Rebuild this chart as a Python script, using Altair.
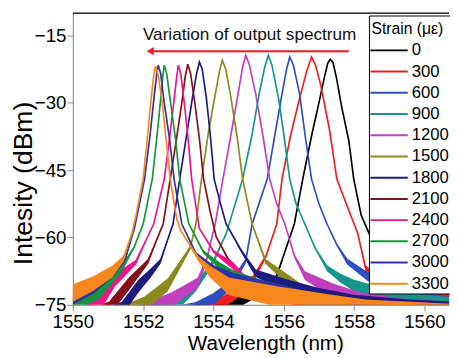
import altair as alt
import pandas as pd

strains = ["0", "300", "600", "900", "1200", "1500", "1800", "2100", "2400", "2700", "3000", "3300"]
colors = ["#000000", "#F01E1E", "#2F4FC0", "#16968C", "#C040C0", "#8A8A1E",
          "#1C1C80", "#85101A", "#F0148C", "#17943F", "#2C35A5", "#F7861C"]

s0_wl = [1550.0, 1553.0, 1554.5, 1555.2, 1555.75, 1555.9, 1556.3, 1556.54, 1556.8, 1557.0, 1557.15, 1557.25, 1557.32, 1557.4, 1557.5, 1557.65, 1557.85, 1557.99, 1558.2, 1558.41, 1558.7, 1559.1, 1559.6, 1560.1, 1560.7]
s0_db = [-76.5, -76.0, -74.5, -71.5, -69.5, -66.2, -57.0, -47.0, -37.0, -30.0, -24.5, -21.2, -20.3, -21.0, -24.5, -31.0, -38.4, -47.0, -55.0, -58.8, -64.0, -67.5, -70.0, -72.0, -73.5]
s0_nz = [2.0, 2.0, 2.0, 2.0, 1.5, 0.5, 0, 0, 0, 0, 0, 0, 0, 0, 0, 0, 0, 0, 0, 0, 0.5, 1.0, 1.5, 2.0, 2.5]

s1_wl = [1550.0, 1553.0, 1554.0, 1554.6, 1555.14, 1555.5, 1555.8, 1555.95, 1556.2, 1556.45, 1556.65, 1556.79, 1556.9, 1557.05, 1557.3, 1557.51, 1557.85, 1558.1, 1558.32, 1558.8, 1559.5, 1560.1, 1560.7]
s1_db = [-77.0, -76.5, -75.0, -72.0, -68.7, -64.0, -57.0, -47.0, -37.0, -29.0, -23.0, -19.8, -21.5, -26.0, -36.0, -47.0, -54.0, -59.0, -66.5, -69.5, -71.5, -72.5, -73.5]
s1_nz = [2.0, 2.0, 2.0, 2.0, 1.2, 0.5, 0, 0, 0, 0, 0, 0, 0, 0, 0, 0, 0, 0, 1.0, 1.5, 2.0, 2.5, 2.5]

s2_wl = [1550.0, 1552.5, 1553.5, 1554.0, 1554.5, 1554.92, 1555.1, 1555.53, 1555.75, 1555.95, 1556.08, 1556.17, 1556.27, 1556.45, 1556.62, 1556.79, 1557.0, 1557.23, 1557.5, 1557.8, 1558.35, 1558.9, 1559.6, 1560.7]
s2_db = [-77.0, -76.5, -75.0, -73.0, -70.0, -65.0, -57.0, -47.0, -37.0, -28.0, -22.5, -19.8, -21.5, -28.0, -38.0, -47.0, -52.5, -57.0, -61.5, -65.0, -68.0, -70.5, -72.5, -74.0]
s2_nz = [2.0, 2.0, 2.0, 2.0, 1.5, 0.8, 0, 0, 0, 0, 0, 0, 0, 0, 0, 0, 0, 0, 0.3, 1.0, 1.5, 2.0, 2.5, 2.5]

s3_wl = [1550.0, 1552.0, 1553.0, 1553.5, 1554.0, 1554.36, 1554.83, 1555.1, 1555.3, 1555.46, 1555.56, 1555.66, 1555.85, 1556.0, 1556.17, 1556.35, 1556.6, 1556.9, 1557.23, 1557.6, 1558.0, 1558.46, 1559.2, 1560.0, 1560.7]
s3_db = [-76.5, -75.5, -74.0, -70.5, -65.2, -59.2, -47.0, -37.0, -28.0, -22.0, -19.4, -21.5, -29.0, -37.0, -47.0, -52.5, -57.0, -62.5, -66.5, -68.5, -70.0, -71.0, -72.5, -73.5, -74.0]
s3_nz = [2.0, 2.0, 2.0, 1.5, 0.8, 0, 0, 0, 0, 0, 0, 0, 0, 0, 0, 0, 0, 0.3, 1.0, 1.5, 2.0, 2.0, 2.5, 2.5, 2.5]

s4_wl = [1550.0, 1551.5, 1552.15, 1552.8, 1553.55, 1553.8, 1554.05, 1554.27, 1554.5, 1554.7, 1554.83, 1554.92, 1555.02, 1555.2, 1555.4, 1555.6, 1555.8, 1556.03, 1556.3, 1556.6, 1557.4, 1558.2, 1559.5, 1560.7]
s4_db = [-77.0, -76.5, -75.0, -73.0, -69.5, -65.0, -57.0, -47.0, -37.0, -28.0, -22.0, -19.4, -21.5, -28.0, -37.0, -47.0, -52.5, -57.0, -64.0, -68.0, -71.0, -73.0, -74.5, -75.0]
s4_nz = [2.0, 2.0, 2.5, 2.5, 1.8, 0.8, 0, 0, 0, 0, 0, 0, 0, 0, 0, 0, 0, 0, 0.5, 1.5, 2.5, 2.5, 2.5, 2.5]

s5_wl = [1550.0, 1551.0, 1551.7, 1552.04, 1552.7, 1553.35, 1553.5, 1553.66, 1553.85, 1554.03, 1554.17, 1554.25, 1554.35, 1554.5, 1554.68, 1554.83, 1555.1, 1555.47, 1556.1, 1556.6, 1557.5, 1558.5, 1560.7]
s5_db = [-77.0, -76.5, -75.0, -73.9, -69.8, -62.0, -57.0, -47.0, -37.0, -29.0, -23.0, -20.5, -22.5, -29.0, -38.0, -47.0, -57.0, -65.0, -68.7, -71.7, -73.5, -74.5, -75.5]
s5_nz = [2.0, 2.0, 2.5, 2.5, 2.2, 0.6, 0, 0, 0, 0, 0, 0, 0, 0, 0, 0, 0, 0.8, 1.8, 2.5, 2.5, 2.5, 2.5]

s6_wl = [1550.0, 1551.0, 1551.4, 1551.87, 1552.2, 1552.5, 1552.85, 1553.04, 1553.22, 1553.4, 1553.52, 1553.6, 1553.68, 1553.8, 1553.92, 1554.02, 1554.2, 1554.36, 1554.8, 1555.2, 1556.1, 1557.0, 1558.0, 1559.5, 1560.7]
s6_db = [-77.0, -76.5, -75.0, -70.0, -67.5, -65.0, -57.0, -47.0, -38.0, -29.0, -23.5, -20.9, -22.5, -29.0, -38.0, -47.0, -52.5, -57.0, -63.0, -67.5, -70.0, -72.0, -73.5, -74.5, -75.0]
s6_nz = [2.0, 2.0, 2.5, 2.2, 1.6, 0.8, 0, 0, 0, 0, 0, 0, 0, 0, 0, 0, 0, 0, 0.5, 1.3, 2.2, 2.5, 2.5, 2.5, 2.5]

s7_wl = [1550.0, 1550.5, 1551.03, 1551.6, 1552.15, 1552.57, 1552.77, 1552.95, 1553.1, 1553.2, 1553.27, 1553.35, 1553.47, 1553.6, 1553.72, 1553.9, 1554.08, 1554.4, 1554.83, 1555.67, 1556.5, 1557.5, 1559.0, 1560.7]
s7_db = [-77.0, -76.5, -75.0, -69.5, -65.0, -57.0, -47.0, -38.0, -30.0, -24.0, -21.4, -23.5, -30.0, -38.0, -47.0, -54.0, -59.9, -64.5, -68.7, -71.3, -73.0, -74.5, -75.0, -75.5]
s7_nz = [2.0, 2.0, 2.5, 2.2, 0.8, 0, 0, 0, 0, 0, 0, 0, 0, 0, 0, 0, 0, 0.5, 1.3, 2.2, 2.5, 2.5, 2.5, 2.5]

s8_wl = [1550.0, 1550.4, 1550.84, 1551.2, 1551.8, 1552.3, 1552.6, 1552.75, 1552.87, 1552.95, 1553.0, 1553.07, 1553.17, 1553.28, 1553.38, 1553.6, 1554.0, 1554.55, 1554.9, 1555.5, 1556.5, 1557.5, 1559.0, 1560.7]
s8_db = [-76.5, -75.5, -73.0, -68.7, -65.2, -57.0, -47.0, -38.0, -30.0, -24.5, -21.6, -23.5, -30.0, -38.0, -47.0, -58.0, -63.0, -65.8, -69.0, -71.0, -73.0, -74.5, -75.0, -75.5]
s8_nz = [2.0, 2.0, 2.5, 2.2, 0.8, 0, 0, 0, 0, 0, 0, 0, 0, 0, 0, 0, 0.5, 1.3, 1.8, 2.5, 2.5, 2.5, 2.5, 2.5]

s9_wl = [1550.0, 1550.75, 1551.4, 1551.75, 1552.0, 1552.26, 1552.4, 1552.5, 1552.56, 1552.6, 1552.67, 1552.78, 1552.92, 1553.04, 1553.3, 1553.7, 1554.2, 1554.6, 1555.5, 1556.5, 1557.5, 1559.0, 1560.7]
s9_db = [-74.0, -71.7, -66.5, -62.0, -57.0, -47.0, -37.0, -29.0, -24.0, -21.6, -23.5, -30.0, -38.0, -47.0, -57.0, -63.0, -66.0, -68.0, -70.5, -72.5, -74.0, -75.0, -75.5]
s9_nz = [2.5, 2.0, 1.2, 0.4, 0, 0, 0, 0, 0, 0, 0, 0, 0, 0, 0, 0.5, 1.3, 1.8, 2.5, 2.5, 2.5, 2.5, 2.5]

s10_wl = [1550.0, 1550.6, 1551.15, 1551.5, 1551.75, 1552.04, 1552.2, 1552.32, 1552.38, 1552.43, 1552.5, 1552.6, 1552.75, 1552.88, 1553.1, 1553.5, 1554.0, 1554.6, 1555.5, 1556.5, 1557.5, 1559.0, 1560.7]
s10_db = [-72.5, -70.5, -67.5, -64.5, -58.0, -47.0, -37.0, -28.0, -24.0, -21.6, -23.5, -30.0, -38.0, -47.0, -57.0, -63.5, -66.5, -68.5, -70.5, -72.5, -74.0, -75.0, -75.5]
s10_nz = [2.5, 2.0, 1.2, 0.8, 0, 0, 0, 0, 0, 0, 0, 0, 0, 0, 0, 0.5, 1.3, 1.8, 2.5, 2.5, 2.5, 2.5, 2.5]

s11_wl = [1550.0, 1550.56, 1551.12, 1551.45, 1551.68, 1551.8, 1552.0, 1552.13, 1552.22, 1552.3, 1552.35, 1552.42, 1552.54, 1552.65, 1552.77, 1552.96, 1553.07, 1553.55, 1553.9, 1554.44, 1555.84, 1557.23, 1558.35, 1559.5, 1560.7]
s11_db = [-71.3, -69.5, -66.9, -64.3, -59.2, -55.0, -47.0, -37.0, -29.5, -24.0, -21.8, -23.5, -29.7, -38.0, -47.0, -56.0, -58.5, -64.3, -66.9, -69.8, -72.0, -73.5, -74.6, -75.0, -75.5]
s11_nz = [3.0, 2.5, 2.0, 1.0, 0, 0, 0, 0, 0, 0, 0, 0, 0, 0, 0, 0, 0, 0.8, 2.0, 3.0, 3.5, 3.0, 2.5, 2.5, 2.5]

all_wl = [s0_wl, s1_wl, s2_wl, s3_wl, s4_wl, s5_wl, s6_wl, s7_wl, s8_wl, s9_wl, s10_wl, s11_wl]
all_db = [s0_db, s1_db, s2_db, s3_db, s4_db, s5_db, s6_db, s7_db, s8_db, s9_db, s10_db, s11_db]
all_nz = [s0_nz, s1_nz, s2_nz, s3_nz, s4_nz, s5_nz, s6_nz, s7_nz, s8_nz, s9_nz, s10_nz, s11_nz]

x_ticks = [1550, 1551, 1552, 1553, 1554, 1555, 1556, 1557, 1558, 1559, 1560]
y_ticks = [-75, -67.5, -60, -52.5, -45, -37.5, -30, -22.5, -15]
x_domain = [1550, 1560.7]
y_domain = [-75, -10]

legend_title = ["Strain (με)"]
ann_text = ["Variation of output spectrum"]
ann_wl = [1555.03]
ann_db = [-15.0]
arrow_wl = [1552.3, 1557.85]
arrow_db = [-18.5, -18.5]
head_wl = [1552.2]
head_db = [-18.5]

FONT = "Liberation Sans"
W, H = 383, 297
# legend layout (pixels, relative to the plot area's top-left corner)
LEG_X0, LEG_Y0, LEG_Y1 = 302, 3, 286
LEG_LINE_X0, LEG_LINE_X1, LEG_TEXT_X = 303, 341, 345
LEG_ROW0, LEG_STEP = 38, 21.6

xscale = alt.Scale(domain=x_domain, nice=False, zero=False)
yscale = alt.Scale(domain=y_domain, nice=False, zero=False)
cscale = alt.Scale(domain=strains, range=colors)

xaxis = alt.Axis(values=x_ticks, labelExpr="datum.value % 2 == 0 ? datum.label : ''",
                 grid=False, tickSize={"condition": {"test": "datum.value % 2 == 0", "value": 6}, "value": 4},
                 labelPadding=2, labelFontSize=19, labelFlush=False, titleFontSize=21, titleFontWeight="normal",
                 titleX=196, titleY=40, titleBaseline="middle", format="d")
yaxis = alt.Axis(values=y_ticks, labelExpr="datum.value % 15 == 0 ? datum.label : ''",
                 grid=False, tickSize={"condition": {"test": "datum.value % 15 == 0", "value": 6}, "value": 4},
                 labelPadding=1, labelFontSize=19, labelFlush=False, titleFontSize=27, titleFontWeight="normal",
                 titleX=-50, titleY=173, titleBaseline="middle", titleAngle=270)

layers = []
for i, s in enumerate(strains):
    wl = all_wl[i]
    db = all_db[i]
    nz = all_nz[i]
    df = pd.DataFrame({
        "wl": wl,
        "db": db,
        "hi": [d + 0.3 * n for d, n in zip(db, nz)],
        "lo": [d - n for d, n in zip(db, nz)],
        "strain": [s] * len(wl),
    })
    area = alt.Chart(df).mark_area(clip=True, opacity=1).encode(
        x=alt.X("wl:Q", scale=xscale, axis=xaxis, title="Wavelength (nm)"),
        y=alt.Y("hi:Q", scale=yscale, axis=yaxis, title="Intesity (dBm)"),
        y2="lo:Q",
        fill=alt.Fill("strain:N", scale=cscale, legend=None),
    )
    line = alt.Chart(df).mark_line(clip=True, strokeWidth=1.7).encode(
        x=alt.X("wl:Q", scale=xscale, axis=xaxis, title="Wavelength (nm)"),
        y=alt.Y("db:Q", scale=yscale, axis=yaxis, title="Intesity (dBm)"),
        stroke=alt.Stroke("strain:N", scale=cscale, legend=None),
    )
    layers += [area, line]

frame_df = pd.DataFrame({"x": [x_domain[0]], "x2": [x_domain[1]], "y": [y_domain[1]]})
frame = alt.Chart(frame_df).mark_rule(color="black", strokeWidth=1.3).encode(
    x=alt.X("x:Q", scale=xscale), x2="x2:Q", y=alt.Y("y:Q", scale=yscale))

arrow_df = pd.DataFrame({"wl": arrow_wl, "db": arrow_db})
arrow = alt.Chart(arrow_df).mark_line(color="#EE1C24", strokeWidth=2).encode(
    x=alt.X("wl:Q", scale=xscale), y=alt.Y("db:Q", scale=yscale))
head_df = pd.DataFrame({"wl": head_wl, "db": head_db})
head = alt.Chart(head_df).mark_point(shape="triangle-left", filled=True, color="#EE1C24", size=70, opacity=1).encode(
    x=alt.X("wl:Q", scale=xscale), y=alt.Y("db:Q", scale=yscale))
ann_df = pd.DataFrame({"wl": ann_wl, "db": ann_db, "t": ann_text})
ann = alt.Chart(ann_df).mark_text(fontSize=17.5, font=FONT, color="#111111", align="center", baseline="middle").encode(
    x=alt.X("wl:Q", scale=xscale), y=alt.Y("db:Q", scale=yscale), text="t:N")

# legend (drawn from the strains / colors arrays)
leg_df = pd.DataFrame({"strain": strains, "row": list(range(len(strains)))})
leg_box = alt.Chart(pd.DataFrame({"t": legend_title})).mark_rect(
    fill="white", stroke="black", strokeWidth=1).encode(
    x=alt.value(LEG_X0), x2=alt.value(LEG_X0 + 200), y=alt.value(LEG_Y0), y2=alt.value(LEG_Y1))
leg_title = alt.Chart(pd.DataFrame({"t": legend_title})).mark_text(
    font=FONT, fontSize=16, color="black", align="left", baseline="middle").encode(
    x=alt.value(LEG_X0 + 2), y=alt.value(LEG_Y0 + 13), text="t:N")
leg_lines = alt.Chart(leg_df).transform_calculate(
    ypix=f"{LEG_ROW0} + {LEG_STEP} * datum.row").mark_rule(strokeWidth=2).encode(
    x=alt.value(LEG_LINE_X0), x2=alt.value(LEG_LINE_X1),
    y=alt.Y("ypix:Q", scale=None),
    color=alt.Color("strain:N", scale=cscale, legend=None))
leg_text = alt.Chart(leg_df).transform_calculate(
    ypix=f"{LEG_ROW0} + {LEG_STEP} * datum.row").mark_text(
    font=FONT, fontSize=17, color="black", align="left", baseline="middle").encode(
    x=alt.value(LEG_TEXT_X), y=alt.Y("ypix:Q", scale=None), text="strain:N")

chart = alt.layer(*layers, frame, arrow, head, ann, leg_box, leg_title, leg_lines, leg_text).properties(
    width=W, height=H,
    padding={"left": 66, "top": 2, "right": 1, "bottom": 50},
    autosize=alt.AutoSizeParams(type="none"),
).configure_view(strokeWidth=0).configure_axis(
    labelFont=FONT, titleFont=FONT, labelColor="black", titleColor="black",
    domainColor="black", tickColor="black", domainWidth=1.3, tickWidth=1.3,
).configure(background="white")

chart.save("out.html", embed_options={"renderer": "svg", "actions": False})
